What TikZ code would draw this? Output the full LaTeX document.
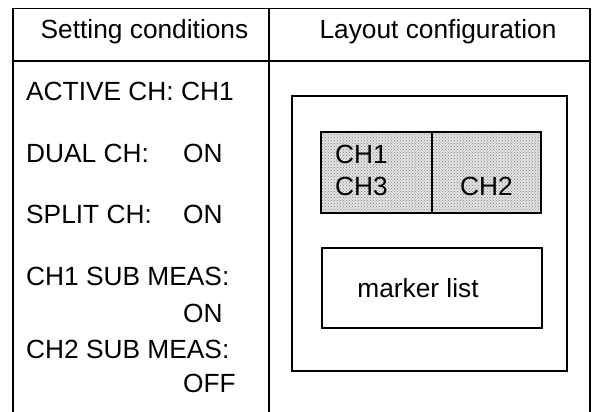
\documentclass[tikz,border=0pt]{standalone}
\usepackage{fontspec}
\setmainfont{Liberation Sans}
\usetikzlibrary{patterns, positioning}

\begin{document}
\begin{tikzpicture}[
    x=1pt, y=-1pt,
    frame/.style={draw, line width=1.6pt},
    thinframe/.style={draw, line width=1.1pt},
    txt/.style={font=\fontsize{26.3}{30}\selectfont, inner sep=0pt, anchor=base west},
    dotted_box/.style={thinframe, preaction={fill=gray!22}, pattern=crosshatch dots, pattern color=gray}
]
\useasboundingbox (0,0) rectangle (594,412);

% table lines
\draw[frame] (12.7,412) -- (12.7,8.5) -- (590,8.5) -- (590,412);
\draw[frame] (12.7,61) -- (590,61);
\draw[frame] (269,8.5) -- (269,412);

% headings
\node[txt, anchor=base] (hset) at (144.5,38) {Setting conditions};
\node[txt, anchor=base] (hlay) at (438,38) {Layout configuration};

% setting conditions
\node[txt] (active) at (26,100) {ACTIVE CH: CH1};
\node[txt] (dual) at (26,162) {DUAL CH:};
\node[txt] (dualval) at (183,162) {ON};
\node[txt] (split) at (26,223) {SPLIT CH:};
\node[txt] (splitval) at (183,223) {ON};
\node[txt] (subone) at (26,285) {CH1 SUB MEAS:};
\node[txt] (suboneval) at (183,322) {ON};
\node[txt] (subtwo) at (26,358) {CH2 SUB MEAS:};
\node[txt] (subtwoval) at (183,392) {OFF};

% layout configuration
\draw[frame] (292,96) rectangle (567,371);
\draw[dotted_box] (321,132) rectangle (541,213);
\draw[thinframe] (432,132) -- (432,213);
\node[txt] (chone) at (335,163) {CH1};
\node[txt] (chthree) at (335,195) {CH3};
\node[txt, anchor=base] (chtwo) at (486.5,195) {CH2};
\draw[thinframe] (322,248) rectangle (542,328);
\node[txt, anchor=base] (markers) at (418,297) {marker list};
\end{tikzpicture}
\end{document}
